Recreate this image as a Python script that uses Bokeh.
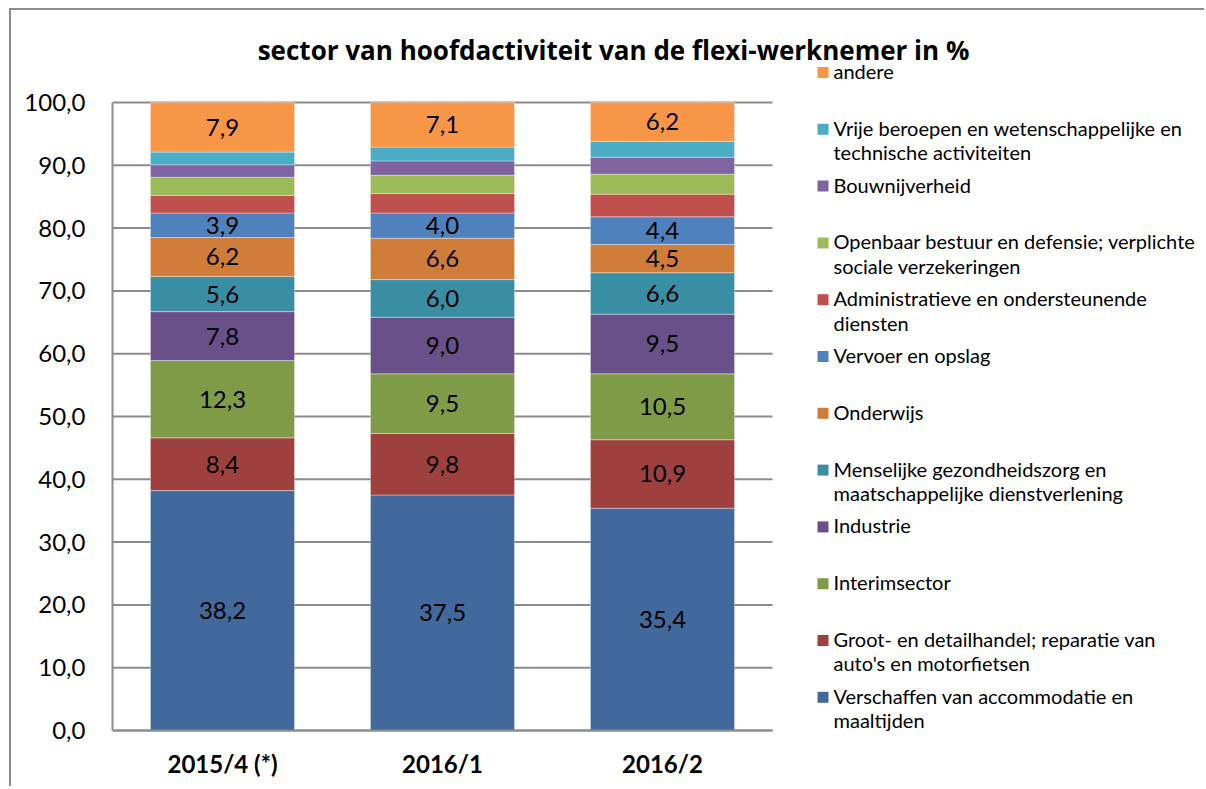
from bokeh.plotting import figure
from bokeh.models import (ColumnDataSource, Label, LabelSet, BoxAnnotation,
                          CustomJSTickFormatter, FixedTicker, Range1d)
from bokeh.embed import file_html
from bokeh.resources import INLINE
from bokeh.core.properties import value

# ---------------- data ----------------
periods = ["2015/4 (*)", "2016/1", "2016/2"]

keys = ["horeca", "handel", "interim", "industrie", "zorg", "onderwijs",
        "vervoer", "admin", "openbaar", "bouw", "vrije", "andere"]

horeca = [38.2, 37.5, 35.4]
handel = [8.4, 9.8, 10.9]
interim = [12.3, 9.5, 10.5]
industrie = [7.8, 9.0, 9.5]
zorg = [5.6, 6.0, 6.6]
onderwijs = [6.2, 6.6, 4.5]
vervoer = [3.9, 4.0, 4.4]
admin = [2.8, 3.1, 3.6]
openbaar = [2.9, 2.9, 3.2]
bouw = [2.0, 2.3, 2.7]
vrije = [2.0, 2.2, 2.5]
andere = [7.9, 7.1, 6.2]

legend_labels = [
    "Verschaffen van accommodatie en\nmaaltijden",
    "Groot- en detailhandel; reparatie van\nauto's en motorfietsen",
    "Interimsector",
    "Industrie",
    "Menselijke gezondheidszorg en\nmaatschappelijke dienstverlening",
    "Onderwijs",
    "Vervoer en opslag",
    "Administratieve en ondersteunende\ndiensten",
    "Openbaar bestuur en defensie; verplichte\nsociale verzekeringen",
    "Bouwnijverheid",
    "Vrije beroepen en wetenschappelijke en\ntechnische activiteiten",
    "andere",
]

labelled = ["horeca", "handel", "interim", "industrie", "zorg", "onderwijs",
            "vervoer", "andere"]

colors = ["#41699C", "#9E413E", "#7F9B48", "#6A5088", "#3A8EA4", "#CF7D39",
          "#4F81BD", "#C0504D", "#9BBB59", "#8064A2", "#4BACC6", "#F79646"]

title_text = "sector van hoofdactiviteit van de flexi-werknemer in %"
y_ticks = list(range(0, 101, 10))

series = dict(horeca=horeca, handel=handel, interim=interim, industrie=industrie,
              zorg=zorg, onderwijs=onderwijs, vervoer=vervoer, admin=admin,
              openbaar=openbaar, bouw=bouw, vrije=vrije, andere=andere)

# ---------------- layout (page pixels) ----------------
CANVAS_X0, CANVAS_Y0 = 11, 10          # canvas origin on page (css margin + shadow border)
CANVAS_W, CANVAS_H = 1195, 778
PLOT_L, PLOT_T, PLOT_B = 112, 102, 730  # plot area left / top(=100) / bottom(=0)
CAT_W = 220                              # px per category
NUM_FONT = "Lato"
TXT_FONT = "Open Sans"

frame_w = CANVAS_X0 + CANVAS_W - PLOT_L
frame_top, frame_bot = CANVAS_Y0, CANVAS_Y0 + CANVAS_H
px_per_unit = (PLOT_B - PLOT_T) / 100.0

p = figure(x_range=Range1d(0, frame_w / CAT_W),
           y_range=Range1d(-(frame_bot - PLOT_B) / px_per_unit,
                           (PLOT_B - frame_top) / px_per_unit),
           width=CANVAS_W, height=CANVAS_H,
           min_border_left=PLOT_L - CANVAS_X0, min_border_top=0,
           min_border_right=0, min_border_bottom=0,
           output_backend="svg", toolbar_location=None)

xc = [i + 0.5 for i in range(len(periods))]

# grid lines (limited to the plot area)
p.segment(x0=0, x1=len(periods), y0=y_ticks, y1=y_ticks,
          line_color="#8C8C8C", line_width=2)

data = dict(x=xc)
data.update(series)
src = ColumnDataSource(data)
p.vbar_stack(keys, x="x", width=0.655, color=colors, source=src,
             line_color="white", line_alpha=0.35, line_width=1)

# data labels
lx, ly, lt = [], [], []
cum = [0.0] * len(periods)
for k in keys:
    for i, v in enumerate(series[k]):
        if k in labelled:
            lx.append(xc[i])
            ly.append(cum[i] + v / 2)
            lt.append(f"{v:.1f}".replace(".", ","))
        cum[i] += v
lsrc = ColumnDataSource(dict(x=lx, y=ly, t=lt))
p.add_layout(LabelSet(x="x", y="y", text="t", source=lsrc,
                      text_align="center", text_baseline="middle",
                      text_font=value(NUM_FONT), text_font_size="24px",
                      text_color="black"))

# axes
p.yaxis.bounds = (0, 100)
p.yaxis.ticker = FixedTicker(ticks=y_ticks)
p.yaxis.formatter = CustomJSTickFormatter(code="return tick.toFixed(1).replace('.', ',');")
p.yaxis.major_tick_line_color = None
p.yaxis.minor_tick_line_color = None
p.yaxis.major_label_standoff = 21
p.yaxis.major_label_text_font = NUM_FONT
p.yaxis.major_label_text_font_size = "24px"
p.yaxis.major_label_text_color = "black"
p.yaxis.axis_line_color = "#8C8C8C"
p.yaxis.axis_line_width = 2

p.xaxis.fixed_location = 0
p.xaxis.bounds = (0, len(periods))
p.xaxis.ticker = FixedTicker(ticks=xc)
p.xaxis.major_label_overrides = {x: lab for x, lab in zip(xc, periods)}
p.xaxis.major_tick_line_color = None
p.xaxis.minor_tick_line_color = None
p.xaxis.major_label_standoff = 12
p.xaxis.major_label_text_font = NUM_FONT
p.xaxis.major_label_text_font_style = "bold"
p.xaxis.major_label_text_font_size = "24px"
p.xaxis.major_label_text_color = "black"
p.xaxis.axis_line_color = "#8C8C8C"
p.xaxis.axis_line_width = 2

p.xgrid.grid_line_color = None
p.ygrid.grid_line_color = None
p.outline_line_color = None
p.background_fill_color = "white"
p.border_fill_color = "white"

# title (screen units relative to frame bottom-left)
p.add_layout(Label(x=613 - PLOT_L, y=frame_bot - 49, x_units="screen", y_units="screen",
                   text=title_text, text_align="center", text_baseline="middle",
                   text_font=TXT_FONT, text_font_style="bold", text_font_size="26px",
                   text_color="black"))

# legend (reversed order, andere on top)
n = len(keys)
for j, idx in enumerate(range(n - 1, -1, -1)):
    yc = 72 + j * 56.8
    p.add_layout(BoxAnnotation(left=817 - PLOT_L, right=828 - PLOT_L,
                               top=frame_bot - (yc - 5.5), bottom=frame_bot - (yc + 5.5),
                               left_units="screen", right_units="screen",
                               top_units="screen", bottom_units="screen",
                               fill_color=colors[idx], fill_alpha=1.0,
                               line_color=None))
    p.add_layout(Label(x=833 - PLOT_L, y=frame_bot - (yc - 13.5),
                       x_units="screen", y_units="screen",
                       text=legend_labels[idx], text_align="left", text_baseline="top",
                       text_font=NUM_FONT, text_font_size="20px", text_line_height=1.02,
                       text_color="black"))

p.styles = {"margin-left": "11px", "margin-top": "10px",
            "box-shadow": "-2px -2px 0 0 #8C8C8C"}

open("out.html", "w").write(file_html(p, INLINE))
